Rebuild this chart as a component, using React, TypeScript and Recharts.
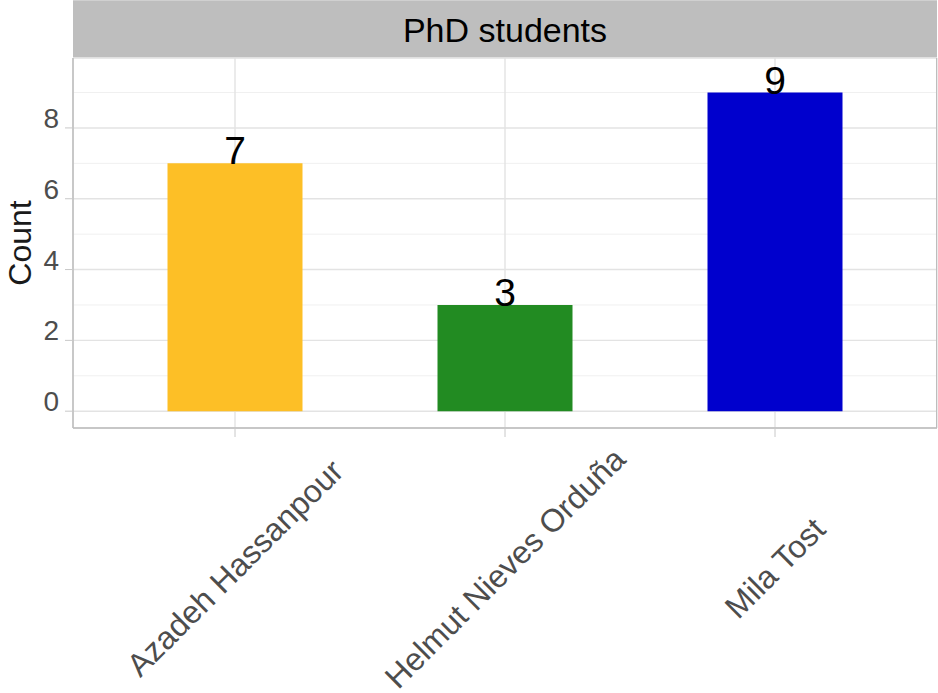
import React from 'react';
import { BarChart, Bar, XAxis, YAxis, CartesianGrid, Cell, LabelList } from 'recharts';

const categories = ['Azadeh Hassanpour', 'Helmut Nieves Orduña', 'Mila Tost'];
const counts = [7, 3, 9];
const barColors = ['#FDBF26', '#228B22', '#0000CD'];
const yTicks = [0, 2, 4, 6, 8];
const yMinor = [1, 3, 5, 7, 9];
const yDomain = [-0.475, 9.975];
const panelTitle = 'PhD students';
const yTitle = 'Count';

const data = categories.map((name, i) => ({ name, count: counts[i] }));

const W = 938;
const H = 693;
const M = { top: 58, right: 1, bottom: 0, left: 0 };
const YW = 73;
const XH = 265;
const FONT = '"Liberation Sans", Arial, Helvetica, sans-serif';

const XTick = (props: any) => {
  const { x, y, payload } = props;
  const cy = y + 129;
  return (
    <text
      x={x}
      y={cy}
      textAnchor="middle"
      dominantBaseline="central"
      transform={`rotate(-45, ${x}, ${cy})`}
      fontSize={32}
      fill="#4D4D4D"
      fontFamily={FONT}
    >
      {payload.value}
    </text>
  );
};

const YTick = (props: any) => {
  const { x, y, payload } = props;
  return (
    <text x={x} y={y} textAnchor="end" fontSize={28} fill="#4D4D4D" fontFamily={FONT}>
      {payload.value}
    </text>
  );
};

const ValueLabel = (props: any) => {
  const { x, y, width, value } = props;
  return (
    <text x={x + width / 2} y={y + 1} textAnchor="middle" fontSize={39} fill="#000" fontFamily={FONT}>
      {value}
    </text>
  );
};

const YTitle = (props: any) => {
  const { viewBox } = props;
  const tx = viewBox.x + 31;
  const ty = viewBox.y + viewBox.height / 2;
  return (
    <text
      x={tx}
      y={ty}
      textAnchor="middle"
      transform={`rotate(-90, ${tx}, ${ty})`}
      fontSize={32}
      fill="#1A1A1A"
      fontFamily={FONT}
    >
      {yTitle}
    </text>
  );
};

export default function App() {
  const plotLeft = M.left + YW;
  const plotTop = M.top;
  const plotW = W - plotLeft - M.right;
  const plotH = H - M.top - M.bottom - XH;
  return (
    <div style={{ position: 'absolute', left: 0, top: 0, width: W, height: H, background: '#fff' }}>
      <div
        style={{
          position: 'absolute',
          left: plotLeft,
          top: 0,
          width: plotW,
          height: plotTop,
          background: '#BEBEBE',
          boxSizing: 'border-box',
          borderTop: '1px solid #D0D0D0',
          display: 'flex',
          alignItems: 'center',
          justifyContent: 'center',
          fontFamily: FONT,
          fontSize: 34,
          color: '#000',
          paddingTop: 2,
        }}
      >
        {panelTitle}
      </div>
      <div style={{ position: 'absolute', left: 0, top: 0 }}>
        <BarChart width={W} height={H} data={data} margin={M} barCategoryGap="25%">
          <CartesianGrid yAxisId="minor" vertical={false} stroke="#F0F0F0" strokeWidth={1} />
          <CartesianGrid yAxisId="main" stroke="#E3E3E3" strokeWidth={1.4} />
          <XAxis
            dataKey="name"
            height={XH}
            padding={{ left: 27, right: 27 }}
            interval={0}
            tick={<XTick />}
            tickSize={9}
            axisLine={{ stroke: '#BDBDBD', strokeWidth: 1.5 }}
            tickLine={{ stroke: '#C8C8C8', strokeWidth: 1 }}
          />
          <YAxis
            yAxisId="minor"
            type="number"
            hide
            domain={yDomain}
            allowDataOverflow
            ticks={yMinor}
            interval={0}
          />
          <YAxis
            yAxisId="main"
            type="number"
            width={YW}
            domain={yDomain}
            allowDataOverflow
            ticks={yTicks}
            interval={0}
            tick={<YTick />}
            tickSize={8}
            tickMargin={6}
            axisLine={{ stroke: '#BDBDBD', strokeWidth: 1.5 }}
            tickLine={{ stroke: '#C8C8C8', strokeWidth: 1 }}
            label={<YTitle />}
          />
          <Bar yAxisId="main" dataKey="count" isAnimationActive={false}>
            {data.map((d, i) => (
              <Cell key={d.name} fill={barColors[i]} />
            ))}
            <LabelList dataKey="count" content={<ValueLabel />} />
          </Bar>
        </BarChart>
      </div>
      <div
        style={{
          position: 'absolute',
          left: plotLeft,
          top: plotTop,
          width: plotW,
          height: plotH,
          boxSizing: 'border-box',
          borderRight: '1.5px solid #BDBDBD',
          pointerEvents: 'none',
        }}
      />
    </div>
  );
}
